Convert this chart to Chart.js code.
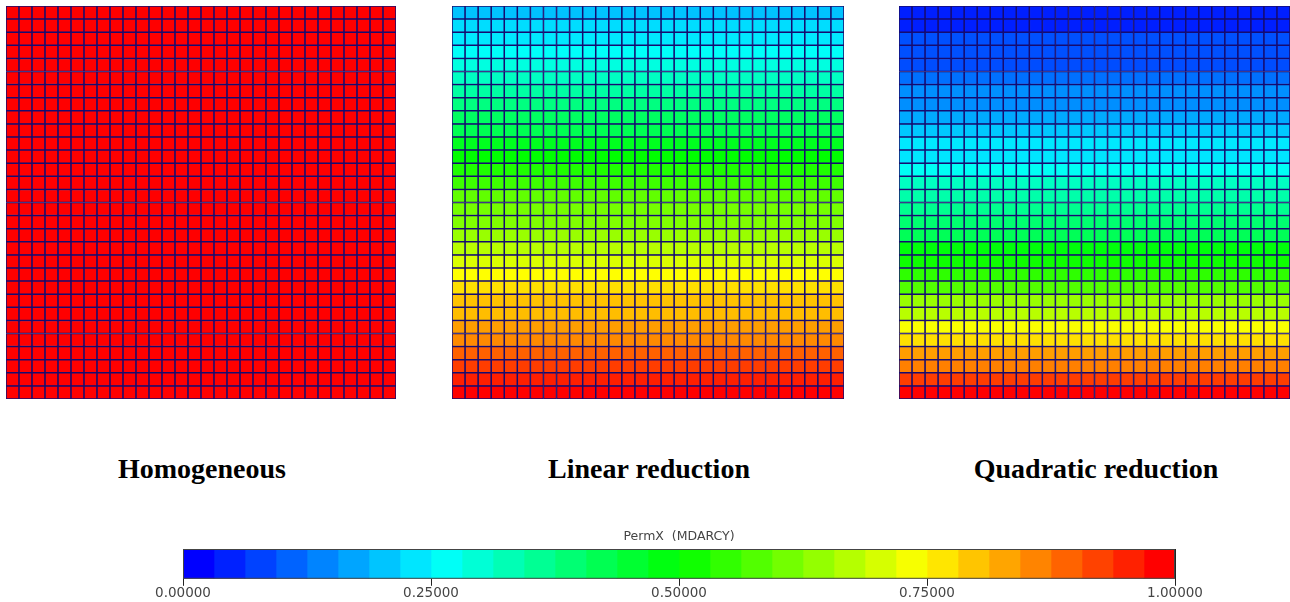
<!DOCTYPE html>
<html><head><meta charset="utf-8">
<script src="https://cdn.jsdelivr.net/npm/chart.js@4/dist/chart.umd.min.js"></script>
<style>
html,body{margin:0;padding:0;background:#fff;width:1290px;height:602px;overflow:hidden;}
.pan{position:absolute;}
.lbl{position:absolute;font-family:"Liberation Serif","Times New Roman",serif;font-weight:bold;font-size:28px;line-height:28px;text-align:center;width:400px;white-space:nowrap;color:#000;}
</style></head><body>
<div class="pan" style="left:6px;top:6px;width:390px;height:393px"><canvas id="c0"></canvas></div>
<div class="pan" style="left:452px;top:6px;width:392px;height:393px"><canvas id="c1"></canvas></div>
<div class="pan" style="left:899px;top:6px;width:391px;height:393px"><canvas id="c2"></canvas></div>
<div class="lbl" id="t0" style="left:2px;top:455px"></div>
<div class="lbl" id="t1" style="left:449px;top:455px"></div>
<div class="lbl" id="t2" style="left:896px;top:455px"></div>
<div class="pan" style="left:0;top:520px;width:1290px;height:82px"><canvas id="cb"></canvas></div>
<script>
// ---- data (row values, top row first; each row is uniform across its columns) ----
const panelTitles = ['Homogeneous', 'Linear reduction', 'Quadratic reduction'];
const nCols = 30;
const homogeneousRows = [1,1,1,1,1,1,1,1,1,1,1,1,1,1,1,1,1,1,1,1,1,1,1,1,1,1,1,1,1,1];
const linearRows = [0.19,0.217,0.228,0.255,0.28,0.31,0.34,0.375,0.405,0.42,0.47,0.5,0.53,0.56,0.595,0.615,0.625,0.65,0.68,0.715,0.75,0.78,0.81,0.815,0.845,0.865,0.905,0.94,0.97,1.0];
const quadraticRows = [0.03,0.03,0.078,0.078,0.075,0.11,0.14,0.14,0.167,0.196,0.228,0.225,0.26,0.31,0.333,0.36,0.39,0.415,0.49,0.515,0.545,0.58,0.65,0.68,0.745,0.78,0.845,0.875,0.94,1.0];
const colorbarTitle = 'PermX  (MDARCY)';
const colorbarLevels = 32;
const colorbarTicks = [0, 0.25, 0.5, 0.75, 1];
const colorbarTickLabels = ['0.00000','0.25000','0.50000','0.75000','1.00000'];

// ---- colour map: blue -> cyan -> green -> yellow -> red ----
function colormap(v){
  v = Math.max(0, Math.min(1, v));
  let r=0,g=0,b=0;
  if (v < 0.25){ r=0; g=255*v/0.25; b=255; }
  else if (v < 0.5){ r=0; g=255; b=255*(1-(v-0.25)/0.25); }
  else if (v < 0.75){ r=255*(v-0.5)/0.25; g=255; b=0; }
  else { r=255; g=255*(1-(v-0.75)/0.25); b=0; }
  return `rgb(${Math.round(r)},${Math.round(g)},${Math.round(b)})`;
}

Chart.defaults.animation = false;
Chart.defaults.plugins.legend.display = false;
Chart.defaults.plugins.tooltip.enabled = false;

function panel(id, rows){
  const cols = Array.from({length:nCols}, (_, i) => i + 1);
  const datasets = rows.slice().reverse().map(v => ({
    data: cols.map(() => 1),
    backgroundColor: colormap(v),
    borderColor: 'rgb(22,12,112)',
    borderWidth: 1.1,
    borderSkipped: false,
    barPercentage: 1,
    categoryPercentage: 1
  }));
  new Chart(document.getElementById(id), {
    type: 'bar',
    data: { labels: cols, datasets },
    options: {
      responsive: true, maintainAspectRatio: false,
      layout: { padding: 0 },
      scales: {
        x: { stacked: true, display: false },
        y: { stacked: true, display: false, min: 0, max: rows.length }
      }
    }
  });
}
panel('c0', homogeneousRows);
panel('c1', linearRows);
panel('c2', quadraticRows);
panelTitles.forEach((t, i) => document.getElementById('t' + i).textContent = t);

const framePlugin = {
  id: 'frame',
  afterDraw(chart){
    const a = chart.chartArea, ctx = chart.ctx;
    ctx.save(); ctx.strokeStyle = '#444'; ctx.lineWidth = 1;
    ctx.strokeRect(a.left + 0.5, a.top + 0.5, a.width - 1, a.height - 1);
    ctx.restore();
  }
};

new Chart(document.getElementById('cb'), {
  type: 'bar',
  data: {
    labels: [''],
    datasets: Array.from({length: colorbarLevels}, (_, i) => ({
      data: [1 / colorbarLevels],
      backgroundColor: colormap(i / (colorbarLevels - 1)),
      borderWidth: 0,
      barPercentage: 1,
      categoryPercentage: 1
    }))
  },
  options: {
    indexAxis: 'y',
    responsive: true, maintainAspectRatio: false,
    layout: { padding: { left: 183, right: 115, top: 0, bottom: 0 } },
    plugins: {
      title: { display: true, text: colorbarTitle, color: '#444',
        font: { family: 'DejaVu Sans', size: 12.5, weight: 'normal' },
        padding: { top: 9, bottom: 5 } }
    },
    scales: {
      x: {
        type: 'linear', stacked: true, min: 0, max: 1,
        afterBuildTicks: s => { s.ticks = colorbarTicks.map(v => ({ value: v })); },
        grid: { color: '#222', tickColor: '#222', tickLength: 7, drawOnChartArea: true, drawTicks: true },
        border: { display: false },
        ticks: { padding: 0, color: '#444', maxRotation: 0, autoSkip: false,
          font: { family: 'DejaVu Sans', size: 13.5 },
          callback: (v, i) => colorbarTickLabels[i] }
      },
      y: { stacked: true, display: false }
    }
  },
  plugins: [framePlugin]
});
</script>
</body></html>
